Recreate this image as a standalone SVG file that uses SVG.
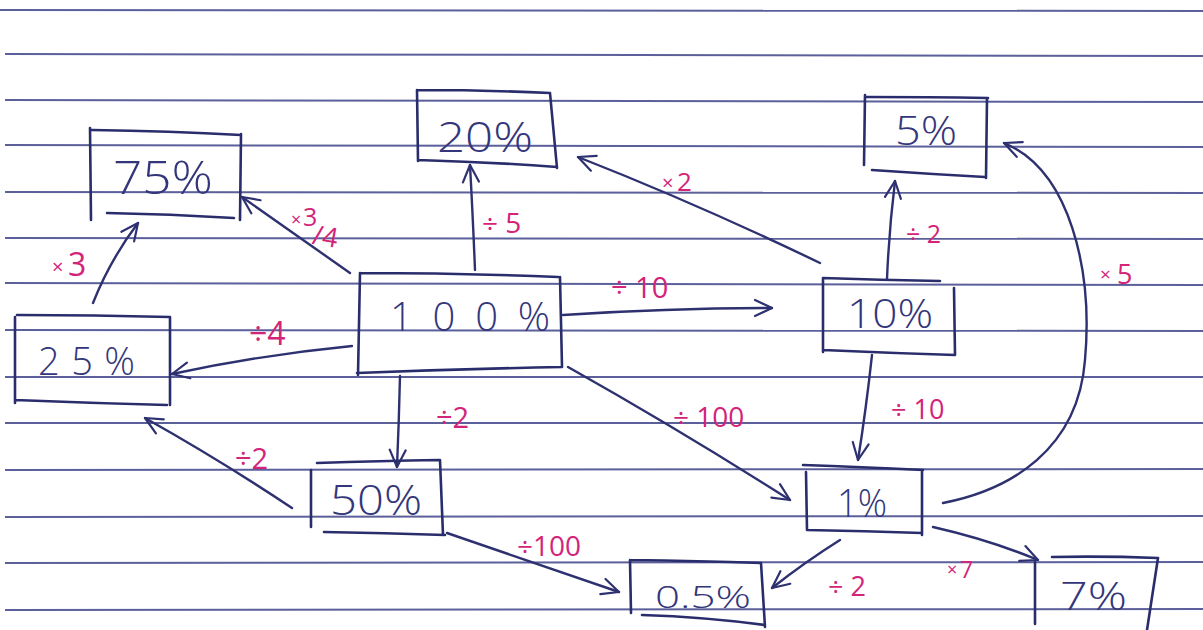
<svg xmlns="http://www.w3.org/2000/svg" width="1203" height="630" viewBox="0 0 1203 630">
<style>
.rule{stroke:#3e4388;stroke-width:2;opacity:.85;fill:none}
.box{stroke:#2a2d6c;stroke-width:2.6;fill:none;stroke-linecap:round;stroke-linejoin:round}
.val{font-family:"Open Sans","Liberation Sans",sans-serif;font-weight:300;fill:#33367a}
.con path{stroke:#2e3170;stroke-width:2.4;fill:none;stroke-linecap:round}
.lbl{font-family:"Open Sans","Liberation Sans",sans-serif;font-weight:400;fill:#d3247a}
</style>
<defs>
<marker id="ahb" viewBox="0 0 20 20" refX="19" refY="10" markerWidth="20" markerHeight="20" markerUnits="userSpaceOnUse" orient="auto">
<path d="M2,2 L19,10 L2,18" fill="none" stroke="#2e3170" stroke-width="2.2" stroke-linecap="round" stroke-linejoin="round"/>
</marker>
</defs>
<rect width="1203" height="630" fill="#ffffff"/>
<g id="paper">
<path class="rule" d="M0,10 L1203,11" opacity=".4"/>
<path class="rule" d="M5,54 L1203,56"/>
<path class="rule" d="M5,100 L1203,102"/>
<path class="rule" d="M5,145 L1203,147"/>
<path class="rule" d="M5,192 L1203,193"/>
<path class="rule" d="M5,238 L1203,239"/>
<path class="rule" d="M5,283 L1203,285"/>
<path class="rule" d="M5,330 L1203,331"/>
<path class="rule" d="M5,377 L1203,377"/>
<path class="rule" d="M5,423 L1203,423"/>
<path class="rule" d="M5,470 L1203,469"/>
<path class="rule" d="M5,517 L1203,516"/>
<path class="rule" d="M5,563 L1203,562"/>
<path class="rule" d="M5,610 L1203,609"/>
</g>
<g id="connectors" class="con">
<path d="M350,273 L242,197" marker-end="url(#ahb)"/>
<path d="M93,303 Q110,260 138,223" marker-end="url(#ahb)"/>
<path d="M352,346 Q260,355 172,374" marker-end="url(#ahb)"/>
<path d="M475,270 Q473,220 470,165" marker-end="url(#ahb)"/>
<path d="M820,263 Q700,205 578,157" marker-end="url(#ahb)"/>
<path d="M563,315 Q670,308 772,308" marker-end="url(#ahb)"/>
<path d="M887,279 Q889,230 895,181" marker-end="url(#ahb)"/>
<path d="M943,503 C1010,490 1078,450 1085,360 C1093,270 1070,170 1004,143" marker-end="url(#ahb)"/>
<path d="M872,355 Q866,410 858,460" marker-end="url(#ahb)"/>
<path d="M568,367 Q680,430 790,500" marker-end="url(#ahb)"/>
<path d="M400,376 Q399,420 397,467" marker-end="url(#ahb)"/>
<path d="M292,508 Q220,460 145,418" marker-end="url(#ahb)"/>
<path d="M447,533 Q540,565 619,592" marker-end="url(#ahb)"/>
<path d="M840,540 Q805,562 772,588" marker-end="url(#ahb)"/>
<path d="M933,527 Q990,540 1038,560" marker-end="url(#ahb)"/>
</g>
<g id="labels">
<text class="lbl" x="291" y="226" font-size="18">×</text>
<text class="lbl" x="303" y="226" font-size="25">3</text>
<text class="lbl" x="312" y="246" font-size="27" transform="rotate(10 325 240)">/4</text>
<text class="lbl" x="52" y="274" font-size="20">×</text>
<text class="lbl" x="68" y="276" font-size="32">3</text>
<text class="lbl" x="249" y="345" font-size="32">÷4</text>
<text class="lbl" x="482" y="233" font-size="28">÷ 5</text>
<text class="lbl" x="662" y="190" font-size="20">×</text>
<text class="lbl" x="677" y="191" font-size="26">2</text>
<text class="lbl" x="611" y="298" font-size="29">÷ 10</text>
<text class="lbl" x="906" y="243" font-size="25">÷ 2</text>
<text class="lbl" x="1100" y="281" font-size="19">×</text>
<text class="lbl" x="1117" y="284" font-size="27">5</text>
<text class="lbl" x="891" y="419" font-size="27">÷ 10</text>
<text class="lbl" x="673" y="427" font-size="28">÷ 100</text>
<text class="lbl" x="436" y="428" font-size="29">÷2</text>
<text class="lbl" x="235" y="469" font-size="29">÷2</text>
<text class="lbl" x="517" y="556" font-size="28">÷100</text>
<text class="lbl" x="828" y="596" font-size="27">÷ 2</text>
<text class="lbl" x="947" y="576" font-size="18">×</text>
<text class="lbl" x="960" y="578" font-size="23">7</text>
</g>
<g id="n75">
<path class="box" d="M90,128 L91,220 M92,130 Q170,131 241,135 M241,134 L240,220 M107,213 Q170,214 234,218"/>
<text class="val" x="113" y="194" font-size="46" textLength="100" lengthAdjust="spacingAndGlyphs">75%</text>
</g>
<g id="n20">
<path class="box" d="M417,90 L418,161 M417,90 Q485,90 550,93 M550,93 L557,168 M418,160 Q490,162 557,167"/>
<text class="val" x="437" y="152" font-size="43" textLength="96" lengthAdjust="spacingAndGlyphs">20%</text>
</g>
<g id="n5">
<path class="box" d="M865,95 L864,165 M867,97 Q930,97 988,98 M987,98 L986,178 M872,170 Q930,174 985,177"/>
<text class="val" x="895" y="145" font-size="41" textLength="62" lengthAdjust="spacingAndGlyphs">5%</text>
</g>
<g id="n100">
<path class="box" d="M360,273 L358,375 M360,273 Q460,273 558,277 M560,277 L562,367 M357,373 Q460,369 562,367"/>
<text class="val" x="390" y="331" font-size="40" textLength="160" lengthAdjust="spacing">100%</text>
</g>
<g id="n10">
<path class="box" d="M823,278 L823,352 M823,278 Q880,280 940,281 M954,288 L955,355 M823,350 Q890,353 955,355"/>
<text class="val" x="847" y="328" font-size="40" textLength="86" lengthAdjust="spacingAndGlyphs">10%</text>
</g>
<g id="n25">
<path class="box" d="M15,317 L15,403 M17,315 Q95,315 170,317 M170,317 L170,405 M15,400 Q90,403 167,405"/>
<text class="val" x="38" y="375" font-size="38" textLength="97" lengthAdjust="spacing">25%</text>
</g>
<g id="n50">
<path class="box" d="M311,470 L311,527 M317,463 Q380,461 439,460 M440,460 L443,535 M324,532 Q385,533 445,535"/>
<text class="val" x="330" y="515" font-size="42" textLength="92" lengthAdjust="spacingAndGlyphs">50%</text>
</g>
<g id="n1">
<path class="box" d="M806,472 L807,530 M803,465 Q860,467 923,470 M922,470 L922,535 M807,530 Q865,531 922,533"/>
<text class="val" x="837" y="517" font-size="39" textLength="50" lengthAdjust="spacingAndGlyphs">1%</text>
</g>
<g id="n05">
<path class="box" d="M630,560 L631,613 M630,560 Q700,561 761,563 M761,563 L765,627 M642,615 Q705,617 765,625"/>
<text class="val" x="655" y="608" font-size="32" textLength="96" lengthAdjust="spacingAndGlyphs">0.5%</text>
</g>
<g id="n7">
<path class="box" d="M1035,562 L1035,624 M1052,557 Q1105,556 1158,558 M1158,558 L1147,630"/>
<text class="val" x="1060" y="610" font-size="38" textLength="67" lengthAdjust="spacingAndGlyphs">7%</text>
</g>
</svg>
